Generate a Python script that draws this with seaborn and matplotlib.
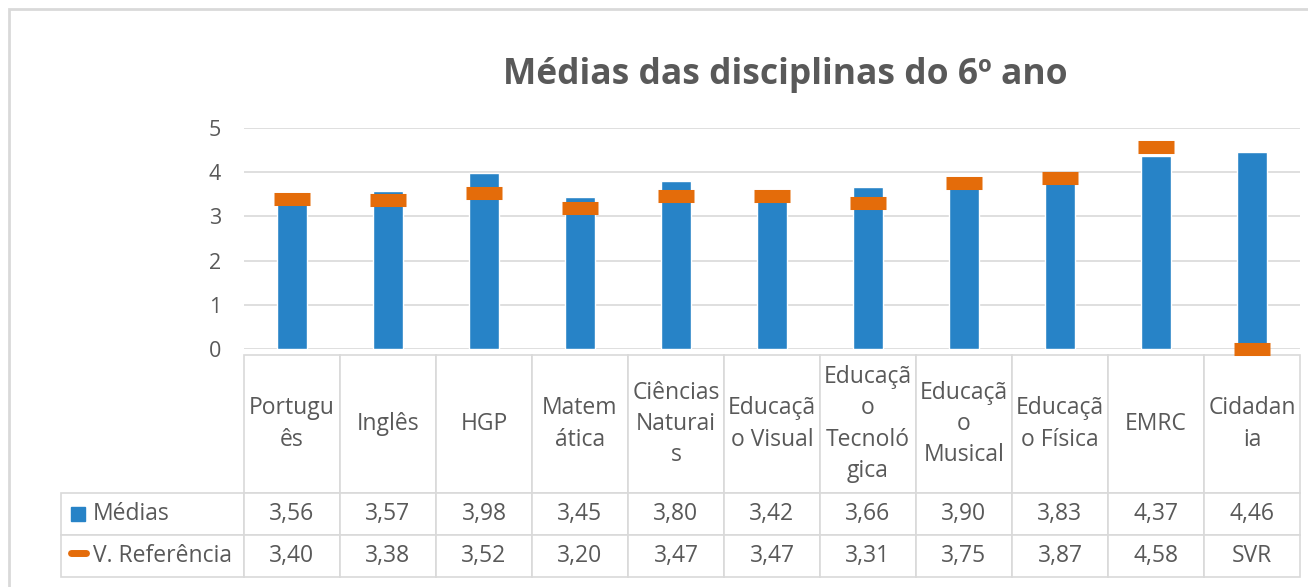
import numpy as np
import pandas as pd
import matplotlib.pyplot as plt
import seaborn as sns
from matplotlib.markers import MarkerStyle
from matplotlib.lines import Line2D
from matplotlib.patches import Rectangle


# Data
disciplinas = ['Português', 'Inglês', 'HGP', 'Matemática', 'Ciências Naturais',
               'Educação Visual', 'Educação Tecnológica', 'Educação Musical',
               'Educação Física', 'EMRC', 'Cidadania']
# header labels wrapped the way the original table wraps them
header_labels = ['Portugu\nês', 'Inglês', 'HGP', 'Matem\nática', 'Ciências\nNaturai\ns',
                 'Educaçã\no Visual', 'Educaçã\no\nTecnoló\ngica', 'Educaçã\no\nMusical',
                 'Educaçã\no Física', 'EMRC', 'Cidadan\nia']
medias = [3.56, 3.57, 3.98, 3.45, 3.80, 3.42, 3.66, 3.90, 3.83, 4.37, 4.46]
referencia = [3.40, 3.38, 3.52, 3.20, 3.47, 3.47, 3.31, 3.75, 3.87, 4.58, np.nan]  # Cidadania = SVR
row_labels = ['Médias', 'V. Referência']
titulo = 'Médias das disciplinas do 6º ano'

df = pd.DataFrame({'disciplina': disciplinas, 'medias': medias, 'referencia': referencia})

BLUE = '#2783C7'
ORANGE = '#E46C0A'
GRAY = '#595959'
LINE = '#D9D9D9'

sns.set_theme(style='white')
plt.rcParams['font.family'] = ['Open Sans', 'DejaVu Sans']

W, H = 1308, 587
fig = plt.figure(figsize=(W / 100, H / 100), dpi=100)
ax = fig.add_axes([244 / W, 1 - 349 / H, 1056 / W, 221 / H])

# Plot
sns.barplot(data=df, x='disciplina', y='medias', color=BLUE, saturation=1,
            width=0.31, ax=ax, zorder=2)
# Excel draws the text value (SVR) as 0
ax.plot(range(len(df)), df['referencia'].fillna(0), ls='none',
        marker=MarkerStyle('_', capstyle='butt'), ms=26.6, mew=9.4,
        color=ORANGE, clip_on=False, zorder=4)

ax.set_xlim(-0.5, len(df) - 0.5)
ax.set_ylim(0, 5)
ax.set_yticks(range(6))
ax.grid(axis='y', color=LINE, lw=1.2)
ax.set_axisbelow(True)
sns.despine(ax=ax, left=True, bottom=True)
ax.tick_params(axis='x', length=0, labelbottom=False)
ax.tick_params(axis='y', length=0, pad=16.5, labelsize=15.5, labelcolor=GRAY)
ax.set_xlabel('')
ax.set_ylabel('')

# Data table under the chart (first column = legend / row labels)
def fmt(v):
    return 'SVR' if np.isnan(v) else f'{v:.2f}'.replace('.', ',')

cell_text = [[''] + header_labels,
             [row_labels[0]] + [fmt(v) for v in medias],
             [row_labels[1]] + [fmt(v) for v in referencia]]
tbl = ax.table(cellText=cell_text, cellLoc='center',
               bbox=[(61 - 244) / 1056, (349 - 577) / 221, (1300 - 61) / 1056, 222 / 221])
tbl.auto_set_font_size(False)
for (r, c), cell in tbl.get_celld().items():
    cell.set_edgecolor(LINE)
    cell.set_linewidth(1.2)
    cell.set_height(138 if r == 0 else 42)
    cell.set_width(183 if c == 0 else 96)
    txt = cell.get_text()
    txt.set_color(GRAY)
    txt.set_fontsize(16.5)
    if r == 0:
        txt.set_linespacing(1.39)
    if c == 0:
        cell.PAD = 32 / 183
        cell._loc = 'left'
        txt.set_horizontalalignment('left')
        if r == 0:
            cell.visible_edges = ''

# legend keys inside the row label cells
fig.add_artist(Line2D([77.5 / W], [1 - 513.5 / H], marker='s', ms=9.4, color=BLUE,
                      ls='none', transform=fig.transFigure))
fig.add_artist(Line2D([78 / W], [1 - 553 / H], marker=MarkerStyle('_', capstyle='round'),
                      ms=10.8, mew=5.0, color=ORANGE, ls='none', transform=fig.transFigure))

fig.text(785 / W, 1 - 75 / H, titulo, ha='center', va='center',
         fontsize=25.5, fontweight='bold', color=GRAY)

# chart area border
fig.add_artist(Rectangle((9 / W, -0.05), 1.2, 1 - 9 / H + 0.05, transform=fig.transFigure,
                         fill=False, ec=LINE, lw=2))

fig.savefig('out.png', dpi=100)
